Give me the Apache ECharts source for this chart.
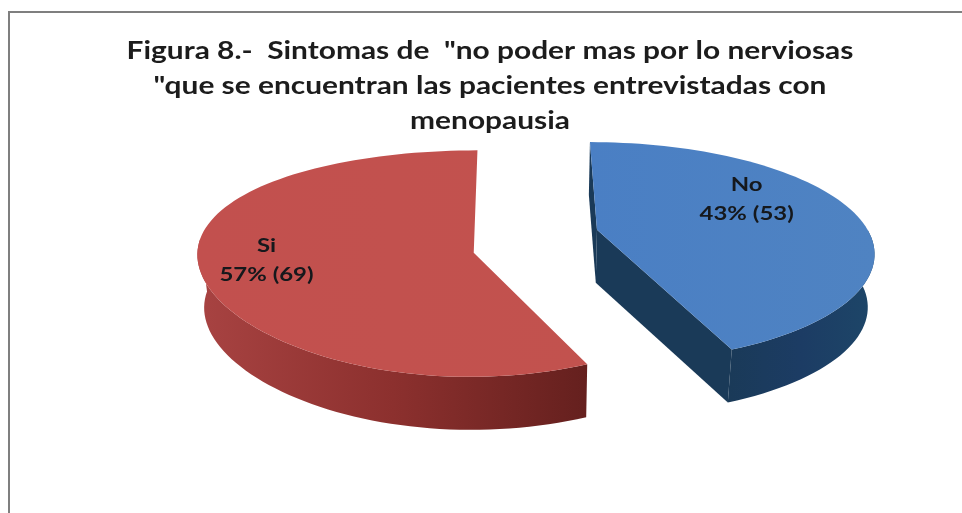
<!DOCTYPE html>
<html lang="es">
<head>
<meta charset="utf-8">
<style>html,body{margin:0;padding:0;background:#fff}#chart{width:962px;height:513px}</style>
<script src="https://cdn.jsdelivr.net/npm/echarts@6/dist/echarts.min.js"></script>
</head>
<body>
<div id="chart"></div>
<script>
// Respuestas de las pacientes
const categories = ['No', 'Si'];
const counts = [53, 69];
const titleLines = [
  'Figura 8.-  Sintomas de  "no poder mas por lo nerviosas',
  '"que se encuentran las pacientes entrevistadas con',
  'menopausia'
];

// Projection of the tilted disc onto the page
const disc = {cx: 536, cy: 241, rx: 275, ry: 109, perspY: 0.15, depth: 53, shrink: 0.98};
const sliceStyles = [
  {offset: [0.225, -0.05], apexShift: -0.055, perspX: 0.14, walls: true, labelAt: [0.81, -0.41],
   top: ['#4a7fc4', '#4f83c2'], side: ['#1a3a58', '#1c3c64', '#1d4668']},
  {offset: [-0.225, 0.05], apexShift: 0.055, perspX: 0.06, walls: false, labelAt: [-0.97, 0.17],
   top: ['#c2504e', '#c2524e'], side: ['#a84342', '#8c302e', '#65201e']}
];
const total = counts.reduce((a, b) => a + b, 0);
const shares = counts.map(c => c / total);

function project(X, Y, perspX) {
  return [
    disc.cx + disc.rx * X / (1 - perspX * Y),
    disc.cy + disc.ry * Y / (1 - disc.perspY * Y)
  ];
}
function lower(p) {
  return [disc.cx + (p[0] - disc.cx) * disc.shrink, p[1] + disc.depth];
}
function arcAngles(from, to) {
  const out = [];
  const steps = Math.ceil(Math.abs(to - from) * 180 / Math.PI / 2);
  for (let i = 0; i <= steps; i++) out.push(from + (to - from) * i / steps);
  return out;
}
const grad = (cols) => new echarts.graphic.LinearGradient(0, 0, 1, 0,
  cols.map((c, i) => ({offset: i / (cols.length - 1), color: c})));

function renderSlice(params, api) {
  const i = params.dataIndex;
  const style = sliceStyles[i];
  const before = shares.slice(0, i).reduce((a, b) => a + b, 0);
  const from = before * 2 * Math.PI;
  const to = (before + shares[i]) * 2 * Math.PI;
  const apex = project(style.offset[0], style.offset[1] + style.apexShift, style.perspX);
  const angles = arcAngles(from, to);
  const rim = a => project(style.offset[0] + Math.sin(a), style.offset[1] - Math.cos(a), style.perspX);
  const arc = angles.map(rim);
  // Only the near half of the rim shows its outer wall
  const front = angles.filter(a => Math.cos(a) < 0.08).map(rim);
  const wall = front.concat(front.map(lower).reverse());
  const children = [];
  if (style.walls) {
    [arc[0], arc[arc.length - 1]].forEach(corner => {
      children.push({type: 'polygon', shape: {points: [apex, corner, lower(corner), lower(apex)]},
        style: {fill: style.side[0]}});
    });
  }
  children.push({type: 'polygon', shape: {points: wall}, style: {fill: grad(style.side)}});
  children.push({type: 'polygon', shape: {points: [apex].concat(arc)}, style: {fill: grad(style.top)}});
  const at = project(style.labelAt[0], style.labelAt[1], style.perspX);
  children.push({type: 'text', x: at[0], y: at[1], scaleX: 1.26, style: {
    text: categories[i] + '\n' + Math.round(shares[i] * 100) + '% (' + counts[i] + ')',
    fill: '#15181c', font: 'bold 19px Lato', align: 'center', verticalAlign: 'middle', lineHeight: 29
  }});
  return {type: 'group', children};
}

const chart = echarts.init(document.getElementById('chart'), null, {renderer: 'canvas'});
chart.setOption({
  animation: false,
  backgroundColor: '#fff',
  graphic: [{
    type: 'polyline', silent: true,
    shape: {points: [[9, 513], [9, 12], [962, 12]]},
    style: {stroke: '#7f7f7f', lineWidth: 2, fill: null}
  }, {
    // Chart title, widened to the line length of the figure's caption
    type: 'text', silent: true, x: 490, y: 86, scaleX: 1.245,
    style: {
      text: titleLines.join('\n'), font: 'bold 24px Lato', lineHeight: 35,
      align: 'center', verticalAlign: 'middle', fill: '#1c1c1c'
    }
  }],
  series: [{
    type: 'custom', coordinateSystem: 'none', renderItem: renderSlice,
    data: counts.map((c, i) => ({name: categories[i], value: c}))
  }]
});
</script>
</body>
</html>
